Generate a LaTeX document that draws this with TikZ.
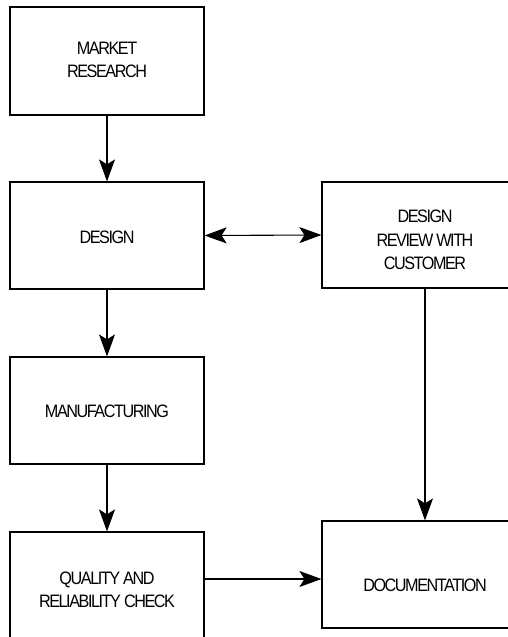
\documentclass[tikz,border=0pt]{standalone}
\usepackage{fontspec}
\setmainfont{Liberation Sans}[FakeStretch=0.9,LetterSpace=-8]
\usetikzlibrary{arrows.meta}
\begin{document}
\begin{tikzpicture}[x=1pt,y=1pt,
  box/.style={draw, line width=1.2pt, rectangle, minimum width=194pt, minimum height=107pt, inner sep=0pt},
  rbox/.style={box, minimum width=206pt},
  lbl/.style={align=center, font=\fontsize{18}{23.5}\selectfont, inner sep=0pt},
  arr/.style={line width=1.1pt, -{Stealth[length=22pt,width=16pt,inset=5pt]}},
  darr/.style={line width=1.1pt, {Stealth[length=22pt,width=16pt,inset=5pt]}-{Stealth[length=22pt,width=16pt,inset=5pt]}}]
\useasboundingbox (0,0) rectangle (508,637);
\clip (0,0) rectangle (508,637);
\node[box, minimum height=108pt] (m) at (107,576) {};
\node[box] (d) at (107,401.5) {};
\node[box] (f) at (107,226.5) {};
\node[box] (q) at (107,51.5) {};
\node[rbox, minimum height=106pt] (r) at (425,402) {};
\node[rbox] (c) at (425,62.5) {};
\node[lbl] (mt) at (107,577) {MARKET\\RESEARCH};
\node[lbl] (dt) at (107,400) {DESIGN};
\node[lbl] (rt) at (425,397) {DESIGN\\REVIEW WITH\\CUSTOMER};
\node[lbl] (ft) at (107,226) {MANUFACTURING};
\node[lbl] (qt) at (107,47) {QUALITY AND\\RELIABILITY CHECK};
\node[lbl] (ct) at (425,52) {DOCUMENTATION};
\coordinate (qc) at (0,58);
\draw[arr] (m) -- (d);
\draw[arr] (d) -- (f);
\draw[arr] (f) -- (q);
\draw[darr] (d.east) -- (r.west);
\draw[arr] (r) -- (c);
\draw[arr] (q.east |- qc) -- (c.west |- qc);
\end{tikzpicture}
\end{document}
